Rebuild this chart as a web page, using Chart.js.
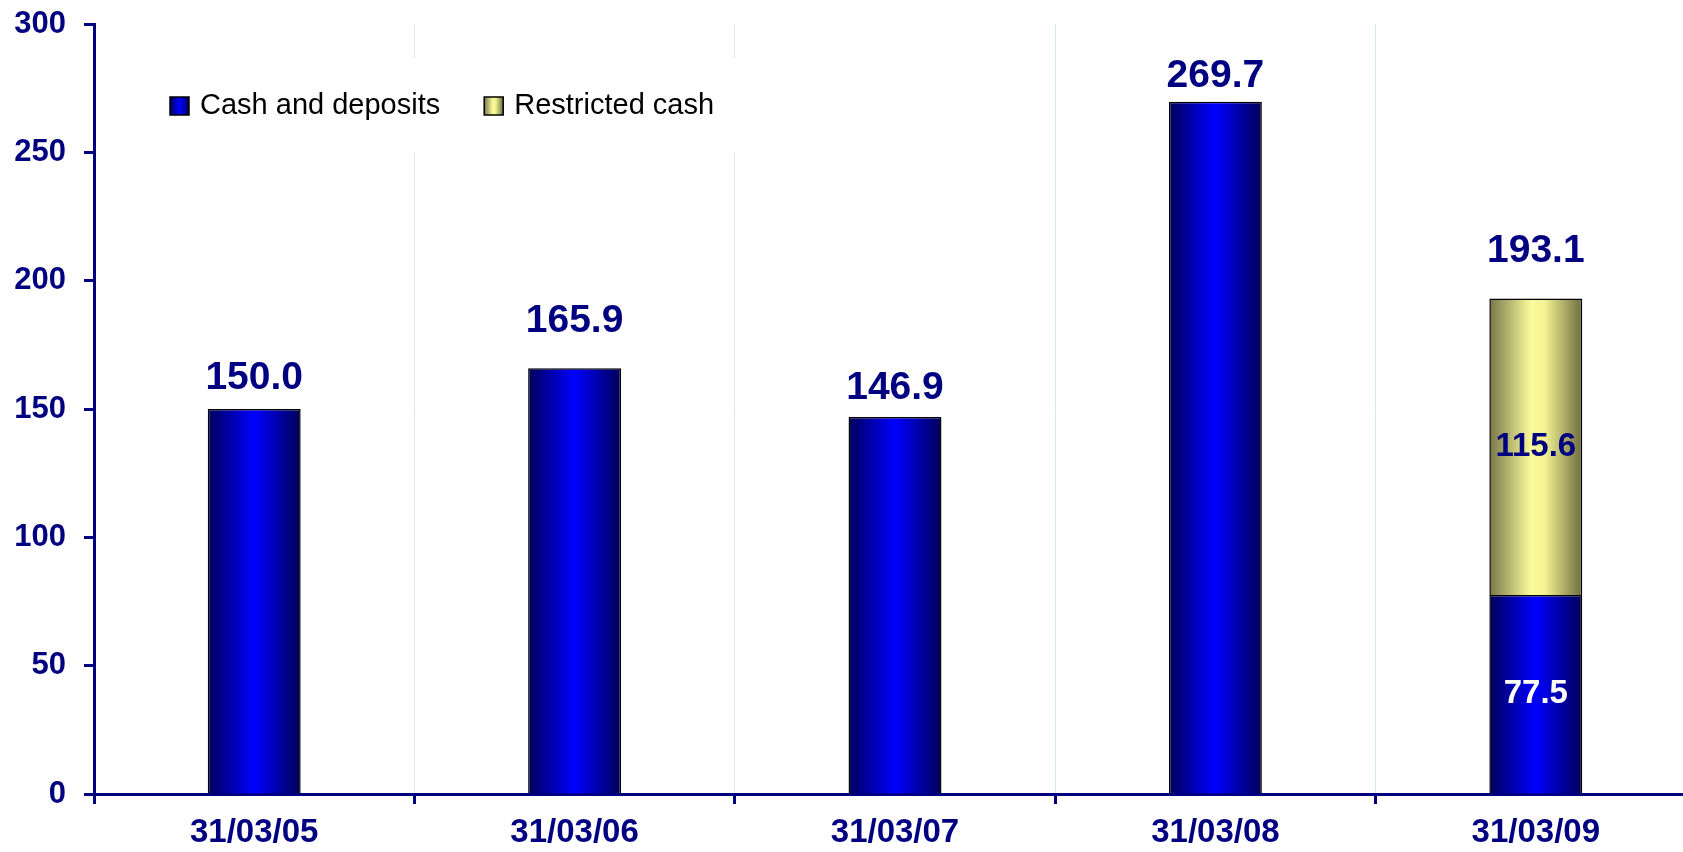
<!DOCTYPE html>
<html>
<head>
<meta charset="utf-8">
<script src="https://cdn.jsdelivr.net/npm/chart.js@4.4.0/dist/chart.umd.min.js"></script>
<style>
html,body{margin:0;padding:0;background:#fff;overflow:hidden;}
#wrap{position:absolute;left:0;top:0;width:1700px;height:852px;}
</style>
</head>
<body>
<div id="wrap"><canvas id="c"></canvas></div>
<script>
// ---- data ----
const categories = ['31/03/05', '31/03/06', '31/03/07', '31/03/08', '31/03/09'];
const cashAndDeposits = [150.0, 165.9, 146.9, 269.7, 77.5];
const restrictedCash = [null, null, null, null, 115.6];
const seriesNames = ['Cash and deposits', 'Restricted cash'];
const yTicks = [0, 50, 100, 150, 200, 250, 300];

// ---- styles ----
const NAVY = '#000080';
const FONT = "'Liberation Sans', Arial, sans-serif";
const BAR_PCT = 0.29;
const blueStops = [[0, '#00005c'], [0.5, '#0000ff'], [1, '#000058']];
const yellowStops = [[0, '#76764a'], [0.45, '#fbfb9b'], [0.6, '#f2f292'], [1, '#6c6c40']];
const totalLift = [31, 47, 29, 26, 47];      // px gap between bar top and total label centre
const segLabelColors = ['#ffffff', NAVY];

function barGradient(stops, fallback) {
  return (c) => {
    const chart = c.chart;
    const xs = chart.scales && chart.scales.x;
    if (!xs || c.type !== 'data' || !chart.chartArea) return fallback;
    const x = xs.getPixelForValue(c.dataIndex);
    const w = (xs.width / categories.length) * BAR_PCT;
    const g = chart.ctx.createLinearGradient(x - w / 2, 0, x + w / 2, 0);
    stops.forEach(([o, col]) => g.addColorStop(o, col));
    return g;
  };
}

const valueLabels = {
  id: 'valueLabels',
  afterDatasetsDraw(chart) {
    const ctx = chart.ctx;
    const xs = chart.scales.x, ys = chart.scales.y;
    ctx.save();
    ctx.textAlign = 'center';
    ctx.textBaseline = 'middle';
    categories.forEach((cat, i) => {
      const vals = chart.data.datasets.map(d => d.data[i]).filter(v => v != null);
      const total = vals.reduce((a, b) => a + b, 0);
      const x = xs.getPixelForValue(i);
      const yTop = ys.getPixelForValue(total);
      ctx.font = 'bold 39px ' + FONT;
      ctx.fillStyle = NAVY;
      ctx.fillText(total.toFixed(1), x, yTop - totalLift[i]);
      if (vals.length > 1) {
        chart.data.datasets.forEach((d, di) => {
          const v = d.data[i];
          if (v == null) return;
          const el = chart.getDatasetMeta(di).data[i];
          ctx.font = 'bold 33px ' + FONT;
          ctx.fillStyle = segLabelColors[di];
          ctx.fillText(v.toFixed(1), x, (el.y + el.base) / 2);
        });
      }
    });
    ctx.restore();
  }
};

const customLegend = {
  id: 'customLegend',
  afterDraw(chart) {
    const ctx = chart.ctx;
    ctx.save();
    ctx.fillStyle = '#ffffff';
    ctx.fillRect(155, 58, 580, 94);
    ctx.font = '29px ' + FONT;
    ctx.textBaseline = 'middle';
    ctx.textAlign = 'left';
    let x = 170;
    const yc = 106;
    const stopsList = [blueStops, yellowStops];
    chart.data.datasets.forEach((d, di) => {
      const g = ctx.createLinearGradient(x, 0, x + 19, 0);
      stopsList[di].forEach(([o, col]) => g.addColorStop(o, col));
      ctx.fillStyle = g;
      ctx.fillRect(x, yc - 9, 19, 18);
      ctx.strokeStyle = '#000';
      ctx.lineWidth = 1.5;
      ctx.strokeRect(x, yc - 9, 19, 18);
      ctx.fillStyle = '#000';
      ctx.fillText(d.label, x + 30, yc);
      x += 30 + ctx.measureText(d.label).width + 44;
    });
    ctx.restore();
  }
};

new Chart(document.getElementById('c'), {
  type: 'bar',
  data: {
    labels: categories,
    datasets: [
      {
        label: seriesNames[0],
        data: cashAndDeposits,
        backgroundColor: barGradient(blueStops, '#0000cc'),
        borderColor: '#000',
        borderWidth: 1.5,
        borderSkipped: 'bottom',
        barPercentage: BAR_PCT,
        categoryPercentage: 1
      },
      {
        label: seriesNames[1],
        data: restrictedCash,
        backgroundColor: barGradient(yellowStops, '#e0e088'),
        borderColor: '#000',
        borderWidth: 1.5,
        borderSkipped: 'bottom',
        barPercentage: BAR_PCT,
        categoryPercentage: 1
      }
    ]
  },
  options: {
    responsive: true,
    maintainAspectRatio: false,
    animation: false,
    events: [],
    layout: { padding: { left: 14, right: 4, top: 24, bottom: 2 } },
    plugins: { legend: { display: false }, tooltip: { enabled: false } },
    scales: {
      x: {
        stacked: true,
        offset: true,
        afterFit: (s) => { s.paddingLeft = 0; s.paddingRight = 0; s.height = 56; },
        grid: {
          offset: true,
          display: true,
          drawOnChartArea: true,
          color: '#d6e5f7',
          lineWidth: 1,
          drawTicks: true,
          tickLength: 10,
          tickColor: NAVY,
          tickWidth: 3
        },
        border: { display: true, color: NAVY, width: 3 },
        ticks: {
          color: NAVY,
          font: { family: FONT, size: 33, weight: 'bold', lineHeight: 1.0 },
          padding: 12,
          maxRotation: 0,
          autoSkip: false
        }
      },
      y: {
        stacked: true,
        min: 0,
        max: 300,
        afterBuildTicks: (s) => { s.ticks = yTicks.map(v => ({ value: v })); },
        afterFit: (s) => { s.paddingTop = 0; s.paddingBottom = 0; s.width = 80; },
        grid: {
          display: true,
          drawOnChartArea: false,
          drawTicks: true,
          tickLength: 10,
          tickColor: NAVY,
          tickWidth: 3
        },
        border: { display: true, color: NAVY, width: 3 },
        ticks: {
          color: NAVY,
          font: { family: FONT, size: 31, weight: 'bold' },
          padding: 18
        }
      }
    }
  },
  plugins: [valueLabels, customLegend]
});
</script>
</body>
</html>
